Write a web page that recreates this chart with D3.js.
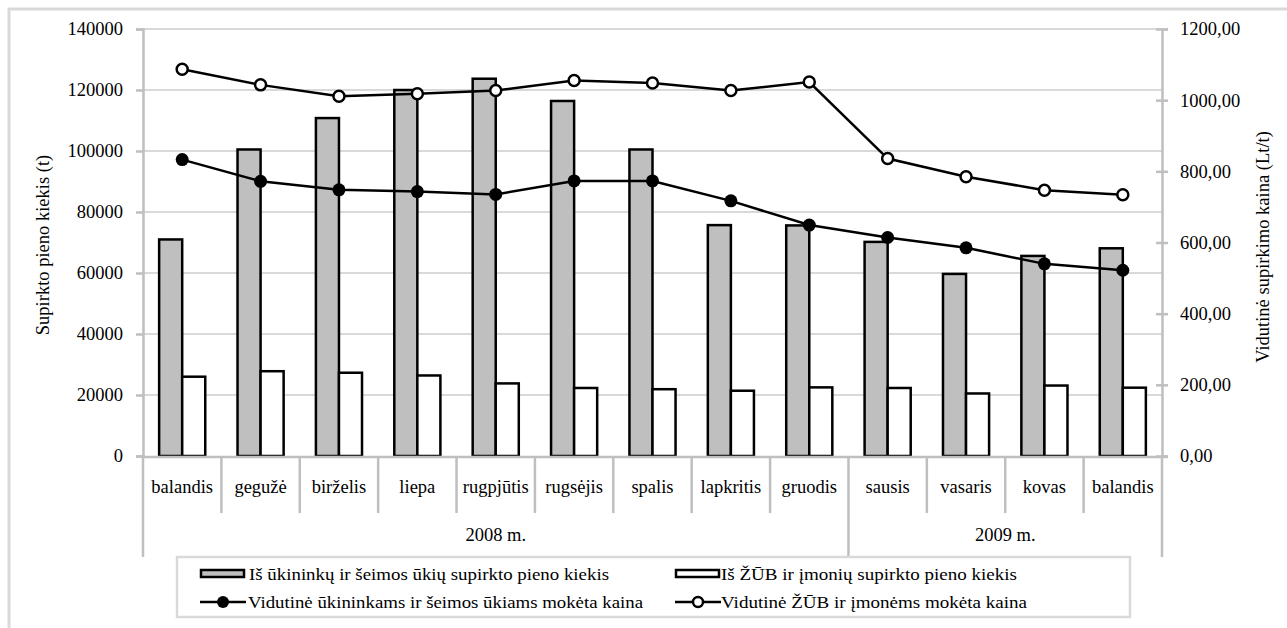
<!DOCTYPE html>
<html><head><meta charset="utf-8">
<script src="https://cdn.jsdelivr.net/npm/d3@7/dist/d3.min.js"></script>
</head><body style="margin:0;background:#fff">
<svg id="c" width="1287" height="628"></svg>
<script>
const months = ["balandis","gegužė","birželis","liepa","rugpjūtis","rugsėjis","spalis","lapkritis","gruodis","sausis","vasaris","kovas","balandis"];
const years = [{label:"2008 m.", from:0, to:9},{label:"2009 m.", from:9, to:13}];
const farmQty = [71000,100500,110800,120000,123700,116400,100500,75700,75600,70200,59700,65600,68100];
const coopQty = [26000,27800,27300,26400,23800,22300,21900,21400,22500,22300,20500,23100,22400];
const farmPrice = [833,772,748,743,735,773,773,717,649,614,585,540,522];
const coopPrice = [1087,1043,1011,1018,1027,1055,1048,1027,1051,836,785,747,734];
const leftTicks = [0,20000,40000,60000,80000,100000,120000,140000];
const rightTicks = [0,200,400,600,800,1000,1200];
const seriesNames = ["Iš ūkininkų ir šeimos ūkių supirkto pieno kiekis","Iš ŽŪB ir įmonių supirkto pieno kiekis","Vidutinė ūkininkams ir šeimos ūkiams mokėta kaina","Vidutinė ŽŪB ir įmonėms mokėta kaina"];

const FONT = "Liberation Serif";
const FS = 18.5;
const svg = d3.select("#c");
const L=143, R=1162, T=29, B=456;
const axisCol="#bfbfbf", gridCol="#d9d9d9", barGray="#bfbfbf";

function txt(g, size){ return g.append("text").style("font-family",FONT).attr("font-size",size||FS).attr("fill","#000"); }

svg.append("rect").attr("x",9).attr("y",9).attr("width",1290).attr("height",640)
  .attr("fill","none").attr("stroke","#d9d9d9").attr("stroke-width",3);

const x = d3.scaleBand().domain(d3.range(months.length)).range([L,R]);
const yL = d3.scaleLinear().domain([0,140000]).range([B,T]);
const yR = d3.scaleLinear().domain([0,1200]).range([B,T]);
const bw = x.bandwidth(), gw = bw/1.7;
const x1 = d3.scaleBand().domain([0,1]).range([(bw-gw)/2,(bw+gw)/2]);

// gridlines
svg.append("g").selectAll("line").data(leftTicks.slice(1)).join("line")
  .attr("x1",L).attr("x2",R).attr("y1",d=>yL(d)).attr("y2",d=>yL(d))
  .attr("stroke",gridCol).attr("stroke-width",2);

// left axis
const gl = svg.append("g").attr("transform",`translate(${L},0)`)
  .call(d3.axisLeft(yL).tickValues(leftTicks).tickFormat("").tickSize(7));
gl.select(".domain").attr("stroke",axisCol).attr("stroke-width",2.5);
gl.selectAll(".tick line").attr("stroke",axisCol).attr("stroke-width",2.5);
gl.selectAll(".tick text").remove();
const fmtL = d3.format("d");
leftTicks.forEach(v=>{ txt(svg).attr("x",L-20).attr("y",yL(v)).attr("dy","0.35em").attr("text-anchor","end").text(fmtL(v)); });

// right axis
const loc = d3.formatLocale({decimal:",",thousands:"",grouping:[3],currency:["",""]});
const fmtR = loc.format(".2f");
const gr = svg.append("g").attr("transform",`translate(${R},0)`)
  .call(d3.axisRight(yR).tickValues(rightTicks).tickFormat("").tickSize(6));
gr.select(".domain").attr("stroke",axisCol).attr("stroke-width",2.5);
gr.selectAll(".tick line").attr("stroke",axisCol).attr("stroke-width",2.5).attr("x1",-6);
gr.selectAll(".tick text").remove();
rightTicks.forEach(v=>{ txt(svg).attr("x",R+18).attr("y",yR(v)).attr("dy","0.35em").text(fmtR(v)); });

// axis titles
txt(svg).attr("transform",`translate(49,245) rotate(-90)`).attr("text-anchor","middle").text("Supirkto pieno kiekis (t)");
txt(svg).attr("transform",`translate(1269,247) rotate(-90)`).attr("text-anchor","middle").text("Vidutinė supirkimo kaina (Lt/t)");

// bars
const bars = svg.append("g");
bars.selectAll("rect.f").data(farmQty).join("rect").attr("class","f")
  .attr("x",(d,i)=>x(i)+x1(0)).attr("width",x1.bandwidth())
  .attr("y",d=>yL(d)).attr("height",d=>B-yL(d))
  .attr("fill",barGray).attr("stroke","#000").attr("stroke-width",2.5);
bars.selectAll("rect.c").data(coopQty).join("rect").attr("class","c")
  .attr("x",(d,i)=>x(i)+x1(1)).attr("width",x1.bandwidth())
  .attr("y",d=>yL(d)).attr("height",d=>B-yL(d))
  .attr("fill","#fff").attr("stroke","#000").attr("stroke-width",2.5);

// bottom axis line
svg.append("line").attr("x1",L).attr("x2",R+6).attr("y1",B+1).attr("y2",B+1).attr("stroke",axisCol).attr("stroke-width",2.5);

// category separators
const sepShort = d3.range(1,months.length).filter(i=>!years.some(y=>y.from===i));
svg.append("g").selectAll("line").data(sepShort).join("line")
  .attr("x1",i=>x(i)).attr("x2",i=>x(i)).attr("y1",B).attr("y2",513)
  .attr("stroke",axisCol).attr("stroke-width",2.5);
const sepLong = years.map(y=>y.from).concat([months.length]);
svg.append("g").selectAll("line").data(sepLong).join("line")
  .attr("x1",i=>i<months.length?x(i):R).attr("x2",i=>i<months.length?x(i):R).attr("y1",B).attr("y2",557)
  .attr("stroke",axisCol).attr("stroke-width",2.5);

// month + year labels
months.forEach((m,i)=>{ txt(svg).attr("x",x(i)+bw/2).attr("y",493).attr("text-anchor","middle").text(m); });
years.forEach(d=>{ txt(svg).attr("x",(x(d.from)+(d.to<months.length?x(d.to):R))/2).attr("y",541).attr("text-anchor","middle").text(d.label); });

// lines
const line = d3.line().x((d,i)=>x(i)+bw/2).y(d=>yR(d));
svg.append("path").datum(farmPrice).attr("d",line).attr("fill","none").attr("stroke","#000").attr("stroke-width",2.5);
svg.append("path").datum(coopPrice).attr("d",line).attr("fill","none").attr("stroke","#000").attr("stroke-width",2.5);
svg.append("g").selectAll("circle").data(farmPrice).join("circle")
  .attr("cx",(d,i)=>x(i)+bw/2).attr("cy",d=>yR(d)).attr("r",6.5).attr("fill","#000");
svg.append("g").selectAll("circle").data(coopPrice).join("circle")
  .attr("cx",(d,i)=>x(i)+bw/2).attr("cy",d=>yR(d)).attr("r",5.5).attr("fill","#fff").attr("stroke","#000").attr("stroke-width",2.5);

// legend
svg.append("rect").attr("x",177).attr("y",557).attr("width",953).attr("height",60)
  .attr("fill","#fff").attr("stroke","#d9d9d9").attr("stroke-width",2.5);
const leg = [
  {type:"bar",fill:barGray,x:200,y:573.5,tx:249,tl:360},
  {type:"bar",fill:"#fff",x:675,y:573.5,tx:721,tl:296},
  {type:"line",fill:"#000",x:200,y:602,tx:248,tl:395},
  {type:"line",fill:"#fff",x:675,y:602,tx:721,tl:306}
];
leg.forEach((l,i)=>{
  const g = svg.append("g");
  if(l.type==="bar"){
    g.append("rect").attr("x",l.x+1).attr("y",l.y-3.5).attr("width",43).attr("height",7)
      .attr("fill",l.fill).attr("stroke","#000").attr("stroke-width",2.5);
  } else {
    g.append("line").attr("x1",l.x).attr("x2",l.x+46).attr("y1",l.y).attr("y2",l.y).attr("stroke","#000").attr("stroke-width",2.5);
    g.append("circle").attr("cx",l.x+23).attr("cy",l.y).attr("r",l.fill==="#000"?6:5)
      .attr("fill",l.fill).attr("stroke","#000").attr("stroke-width",l.fill==="#000"?0:2.5);
  }
  txt(g,17.5).attr("x",l.tx).attr("y",l.y+6)
    .attr("textLength",l.tl).attr("lengthAdjust","spacingAndGlyphs").text(seriesNames[i]);
});
</script>
</body></html>
